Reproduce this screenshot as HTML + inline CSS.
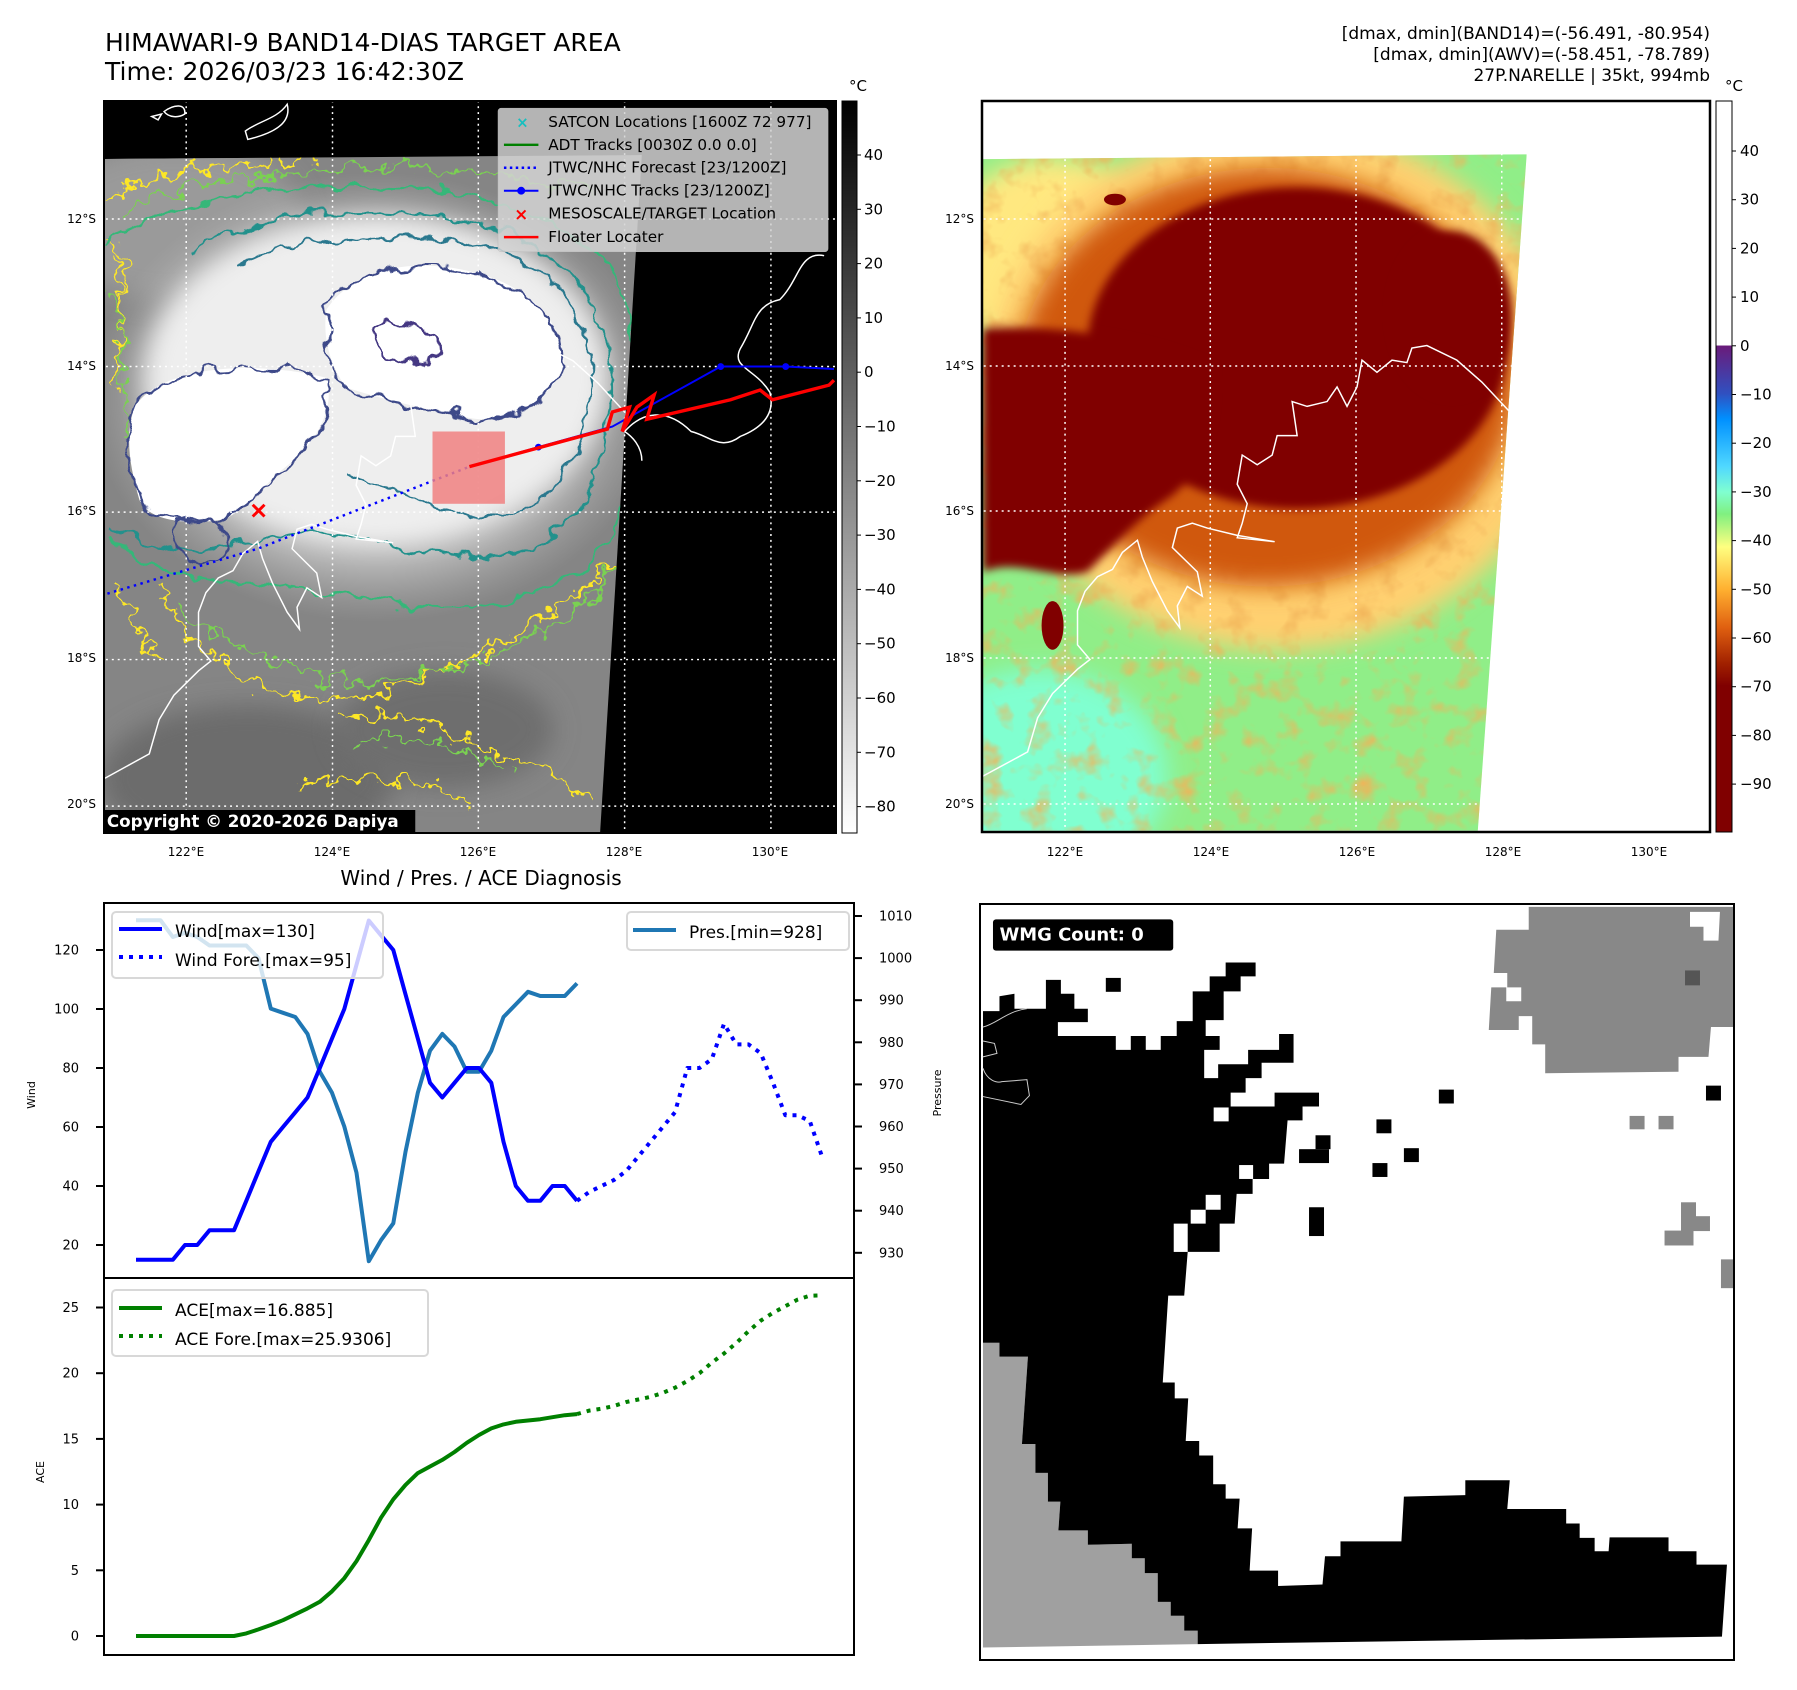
<!DOCTYPE html>
<html><head><meta charset="utf-8">
<style>
html,body{margin:0;padding:0;background:#fff;}
svg{display:block;font-family:"DejaVu Sans","Liberation Sans",sans-serif;}
</style></head>
<body>
<svg id="fig" width="1797" height="1690" viewBox="0 0 1797 1690" xmlns="http://www.w3.org/2000/svg">
<defs>
  <clipPath id="clipL"><rect x="104" y="101" width="732" height="732"/></clipPath>
  <clipPath id="clipR"><rect x="982" y="101" width="728" height="731"/></clipPath>
  <clipPath id="dataL"><polygon points="10,132 1100,124 1015,1515 10,1515"/></clipPath>
  <clipPath id="dataR"><polygon points="10,132 1100,122 1002,1512 10,1512"/></clipPath>
  <filter id="blur20" x="-30%" y="-30%" width="160%" height="160%"><feGaussianBlur stdDeviation="25"/></filter>
  <filter id="blur8" x="-30%" y="-30%" width="160%" height="160%"><feGaussianBlur stdDeviation="9"/></filter>
  <filter id="wig" filterUnits="userSpaceOnUse" x="-100" y="-100" width="1800" height="1800">
    <feTurbulence type="fractalNoise" baseFrequency="0.02" numOctaves="3" seed="3" result="t"/>
    <feDisplacementMap in="SourceGraphic" in2="t" scale="45" xChannelSelector="R" yChannelSelector="G"/>
  </filter>
  <filter id="wig2" filterUnits="userSpaceOnUse" x="-100" y="-100" width="1800" height="1800">
    <feTurbulence type="fractalNoise" baseFrequency="0.03" numOctaves="3" seed="7" result="t"/>
    <feDisplacementMap in="SourceGraphic" in2="t" scale="70" xChannelSelector="R" yChannelSelector="G"/>
  </filter>
  <filter id="mottle" x="0" y="0" width="100%" height="100%">
    <feTurbulence type="fractalNoise" baseFrequency="0.02" numOctaves="3" seed="11"/>
    <feColorMatrix type="matrix" values="0 0 0 0 0.88  0 0 0 0 0.45  0 0 0 0 0.1  0 0 0 2.2 -1.1"/>
  </filter>
  <linearGradient id="cb1" x1="0" y1="0" x2="0" y2="1">
    <stop offset="0" stop-color="#000"/><stop offset="1" stop-color="#fff"/>
  </linearGradient>
  <linearGradient id="cb2" x1="0" y1="0" x2="0" y2="1">
    <stop offset="0" stop-color="#fff"/><stop offset="0.334" stop-color="#fff"/>
    <stop offset="0.335" stop-color="#6a1b7a"/><stop offset="0.40" stop-color="#3050c0"/>
    <stop offset="0.435" stop-color="#0090ff"/><stop offset="0.50" stop-color="#50d8ff"/>
    <stop offset="0.535" stop-color="#80ffd0"/><stop offset="0.565" stop-color="#80f080"/>
    <stop offset="0.61" stop-color="#ffff80"/><stop offset="0.668" stop-color="#ffb030"/>
    <stop offset="0.72" stop-color="#e06010"/><stop offset="0.77" stop-color="#a02000"/>
    <stop offset="0.80" stop-color="#800000"/><stop offset="1" stop-color="#800000"/>
  </linearGradient>
  <radialGradient id="cloud" cx="0.5" cy="0.5" r="0.5">
    <stop offset="0" stop-color="#fff"/><stop offset="0.55" stop-color="#eee"/><stop offset="1" stop-color="#bdbdbd" stop-opacity="0"/>
  </radialGradient>
</defs>

<!-- Titles -->
<text x="105" y="51" font-size="25" fill="#000">HIMAWARI-9 BAND14-DIAS TARGET AREA</text>
<text x="105" y="80" font-size="25" fill="#000">Time: 2026/03/23 16:42:30Z</text>
<g font-size="17" text-anchor="end" fill="#000">
  <text x="1710" y="39">[dmax, dmin](BAND14)=(-56.491, -80.954)</text>
  <text x="1710" y="60">[dmax, dmin](AWV)=(-58.451, -78.789)</text>
  <text x="1710" y="81">27P.NARELLE | 35kt, 994mb</text>
</g>

<!-- ================= LEFT MAP ================= -->
<g clip-path="url(#clipL)">
  <rect x="104" y="101" width="732" height="732" fill="#000"/>
  <g transform="translate(100,94.5) scale(0.4926,0.4884)">
    <g clip-path="url(#dataL)">
      <rect x="0" y="100" width="1120" height="1450" fill="#858585"/>
      <ellipse cx="150" cy="260" rx="260" ry="160" fill="#9a9a9a" filter="url(#blur20)"/>
      <ellipse cx="300" cy="1400" rx="300" ry="150" fill="#6c6c6c" filter="url(#blur20)"/>
      <ellipse cx="700" cy="1300" rx="220" ry="120" fill="#6e6e6e" filter="url(#blur20)"/>
      <ellipse cx="560" cy="620" rx="580" ry="460" fill="url(#cloud)"/>
      <ellipse cx="560" cy="580" rx="470" ry="330" fill="#eeeeee" filter="url(#blur20)"/>
      <path d="M70,640 C120,560 300,540 460,580 C480,650 430,720 380,760 C330,800 300,850 250,870 C200,880 100,880 80,830 C60,760 50,700 70,640Z" fill="#fff"/>
      <path d="M460,440 C520,350 650,330 780,370 C880,400 950,480 940,560 C900,640 820,680 740,660 C640,640 560,620 500,600 C470,560 450,500 460,440Z" fill="#fff"/>
      <!-- contours -->
      <g fill="none" filter="url(#wig2)" stroke-width="5">
        <path d="M10,220 C100,150 300,140 450,130 M20,330 C60,420 40,520 30,600 M120,1000 C150,1100 250,1160 300,1200 C380,1230 450,1260 560,1230 C650,1200 750,1160 850,1100 C950,1050 1000,1000 1050,950 M500,1280 C600,1250 700,1300 800,1350 C900,1380 950,1420 1000,1450 M400,1420 C500,1380 650,1400 750,1450 M30,1000 C60,1060 90,1120 120,1150 M20,300 C60,350 50,420 40,480" stroke="#fde725"/>
        <path d="M40,250 C150,180 300,170 480,150 C650,140 850,160 1000,200 M25,400 C60,500 40,600 50,700 M160,1050 C250,1120 350,1180 480,1200 C600,1210 750,1180 900,1100 C980,1060 1030,1000 1060,930 M520,1330 C620,1300 720,1340 820,1380" stroke="#7ad151"/>
      </g>
      <g fill="none" filter="url(#wig)" stroke-width="5">
        <path d="M20,300 C150,200 400,180 600,190 C800,200 1000,260 1060,400 C1090,550 1080,750 1050,880 C1000,1000 850,1050 700,1050 C550,1050 400,1000 300,1000 C150,1000 50,960 20,900" stroke="#35b779"/>
        <path d="M190,320 C300,240 500,230 700,250 C880,270 1000,380 1030,520 C1050,650 1020,800 950,880 C880,940 780,960 680,940 C560,930 480,880 380,900 C280,920 120,960 30,880" stroke="#21918c"/>
        <path d="M280,350 C400,290 600,280 760,310 C900,340 990,430 1000,560 C1000,680 950,780 880,840 C820,880 760,880 700,850 C640,820 560,800 500,780" stroke="#2a788e"/>
        <path d="M70,640 C120,560 300,540 460,580 C480,650 430,720 380,760 C330,800 300,850 250,870 C200,880 100,880 80,830 C60,760 50,700 70,640Z" stroke="#3e4a89"/>
        <path d="M460,440 C520,350 650,330 780,370 C880,400 950,480 940,560 C900,640 820,680 740,660 C640,640 560,620 500,600 C470,560 450,500 460,440Z" stroke="#3e4a89"/>
        <path d="M150,880 C180,860 240,870 260,910 C270,950 220,970 180,960 C150,940 140,900 150,880Z" stroke="#3e4a89"/>
        <path d="M560,480 C600,450 650,470 680,500 C700,540 660,560 620,550 C580,540 550,510 560,480Z" stroke="#443983"/>
      </g>
    </g>
    <!-- grid -->
    <g stroke="#fff" stroke-width="3" stroke-dasharray="4,8">
      <line x1="175" y1="0" x2="175" y2="1560"/><line x1="472" y1="0" x2="472" y2="1560"/>
      <line x1="768" y1="0" x2="768" y2="1560"/><line x1="1065" y1="0" x2="1065" y2="1560"/>
      <line x1="1362" y1="0" x2="1362" y2="1560"/>
      <line x1="0" y1="255" x2="1500" y2="255"/><line x1="0" y1="557" x2="1500" y2="557"/>
      <line x1="0" y1="855" x2="1500" y2="855"/><line x1="0" y1="1157" x2="1500" y2="1157"/>
      <line x1="0" y1="1457" x2="1500" y2="1457"/>
    </g>
    <!-- coast -->
    <g fill="none" stroke="#fff" stroke-width="3">
      <path d="M1065,690 C1100,650 1150,640 1200,690 C1240,700 1260,730 1300,700 C1350,680 1370,650 1360,610 C1330,560 1280,560 1300,520 C1330,470 1330,430 1380,420 C1420,380 1420,320 1470,330 M1100,750 C1100,720 1080,700 1065,690"/>
      <path d="M1065,650 L1010,590 L960,545 L900,515 L870,520 L860,550 L830,545 L800,570 L770,545 L760,600 L740,640 L720,600 L700,630 L660,640 L630,630 L640,700 L600,700 L590,740 L560,760 L530,740 L520,800 L540,840 L530,880 L520,910 L595,918 L520,905 L460,890 L430,880 L400,890 L390,930 L420,960 L440,980 L450,1030 L420,1010 L400,1050 L405,1095 L380,1060 L350,1000 L330,950 L320,915 L290,940 L270,975 L240,990 L215,1020 L200,1060 L200,1130 L225,1160 L200,1180 L150,1230 L120,1280 L100,1350 L10,1400"/>
      <path d="M105,45 L125,40 L118,52Z M130,35 C150,20 175,18 172,40 C160,48 140,48 130,35Z M295,75 C320,55 360,50 380,20 C390,60 350,80 300,92Z"/>
    </g>
    <!-- tracks -->
    <polyline points="15,1022 320,930 750,762" fill="none" stroke="#00f" stroke-width="5" stroke-dasharray="5,9"/>
    <polyline points="750,762 890,722 1040,680 1260,557 1392,557 1490,562" fill="none" stroke="#00f" stroke-width="4"/>
    <g fill="#00f"><circle cx="890" cy="722" r="7"/><circle cx="1260" cy="557" r="7"/><circle cx="1392" cy="557" r="7"/></g>
    <rect x="675" y="690" width="147" height="148" fill="#f08080" fill-opacity="0.85"/>
    <polyline points="750,762 1030,685 1040,650 1075,640 1060,690 1090,640 1125,615 1110,665 1280,625 1340,605 1365,625 1480,595 1490,585" fill="none" stroke="#f00" stroke-width="7"/>
    <g stroke="#f00" stroke-width="6"><line x1="310" y1="840" x2="334" y2="864"/><line x1="334" y1="840" x2="310" y2="864"/></g>
    <!-- legend -->
    <g>
      <rect x="808" y="28" width="670" height="294" rx="6" fill="#d4d4d4" fill-opacity="0.85" stroke="#bbb"/>
      <text x="845" y="68" font-size="30" fill="#17bfbf" font-weight="bold">×</text>
      <line x1="820" y1="103" x2="890" y2="103" stroke="#008000" stroke-width="5"/>
      <line x1="820" y1="150" x2="890" y2="150" stroke="#00f" stroke-width="5" stroke-dasharray="5,7"/>
      <line x1="820" y1="197" x2="890" y2="197" stroke="#00f" stroke-width="4"/><circle cx="855" cy="197" r="8" fill="#00f"/>
      <text x="841" y="257" font-size="34" fill="#f00" font-weight="bold">×</text>
      <line x1="820" y1="292" x2="890" y2="292" stroke="#f00" stroke-width="5"/>
      <g font-size="31" fill="#000">
        <text x="910" y="67">SATCON Locations [1600Z 72 977]</text>
        <text x="910" y="114">ADT Tracks [0030Z 0.0 0.0]</text>
        <text x="910" y="160">JTWC/NHC Forecast [23/1200Z]</text>
        <text x="910" y="207">JTWC/NHC Tracks [23/1200Z]</text>
        <text x="910" y="254">MESOSCALE/TARGET Location</text>
        <text x="910" y="302">Floater Locater</text>
      </g>
    </g>
    <rect x="5" y="1465" width="635" height="52" fill="#000"/>
    <text x="14" y="1500" font-size="34" font-weight="bold" fill="#fff">Copyright © 2020-2026 Dapiya</text>
  </g>
</g>
<rect x="104" y="101" width="732" height="732" fill="none" stroke="#000" stroke-width="2"/>

<!-- ================= RIGHT MAP ================= -->
<g clip-path="url(#clipR)">
  <rect x="982" y="101" width="728" height="731" fill="#fff"/>
  <g transform="translate(977.7,94.9) scale(0.4991,0.4867)">
    <g clip-path="url(#dataR)">
      <rect x="0" y="100" width="1120" height="1450" fill="#90ee88"/>
      <ellipse cx="120" cy="1400" rx="260" ry="220" fill="#80ffd0" filter="url(#blur20)"/>
      <ellipse cx="150" cy="330" rx="220" ry="200" fill="#ffe880" filter="url(#blur20)"/>
      <ellipse cx="600" cy="600" rx="580" ry="540" fill="#ffd070" filter="url(#blur20)"/>
      <rect x="0" y="100" width="1120" height="1450" fill="#000" filter="url(#mottle)"/>
      <ellipse cx="580" cy="580" rx="500" ry="430" fill="#d05810" filter="url(#blur20)"/>
      <ellipse cx="640" cy="520" rx="420" ry="330" fill="#800000" filter="url(#blur8)"/>
      <ellipse cx="950" cy="450" rx="120" ry="170" fill="#800000" filter="url(#blur8)"/>
      <path d="M10,480 C150,470 350,500 470,560 C480,700 430,800 380,830 C320,870 270,930 220,980 C150,1000 80,950 10,980Z" fill="#800000" filter="url(#blur8)"/>
      <ellipse cx="150" cy="1090" rx="22" ry="50" fill="#800000"/>
      <ellipse cx="275" cy="215" rx="22" ry="12" fill="#800000"/>
    </g>
    <g stroke="#fff" stroke-width="3" stroke-dasharray="4,8">
      <line x1="175" y1="0" x2="175" y2="1560"/><line x1="466" y1="0" x2="466" y2="1560"/>
      <line x1="758" y1="0" x2="758" y2="1560"/><line x1="1050" y1="0" x2="1050" y2="1560"/>
      <line x1="1345" y1="0" x2="1345" y2="1560"/>
      <line x1="0" y1="255" x2="1100" y2="255"/><line x1="0" y1="557" x2="1080" y2="557"/>
      <line x1="0" y1="855" x2="1060" y2="855"/><line x1="0" y1="1157" x2="1035" y2="1157"/>
      <line x1="0" y1="1457" x2="1010" y2="1457"/>
    </g>
    <path fill="none" stroke="#fff" stroke-width="3" d="M1065,650 L1010,590 L960,545 L900,515 L870,520 L860,550 L830,545 L800,570 L770,545 L760,600 L740,640 L720,600 L700,630 L660,640 L630,630 L640,700 L600,700 L590,740 L560,760 L530,740 L520,800 L540,840 L530,880 L520,910 L595,918 L520,905 L460,890 L430,880 L400,890 L390,930 L420,960 L440,980 L450,1030 L420,1010 L400,1050 L405,1095 L380,1060 L350,1000 L330,950 L320,915 L290,940 L270,975 L240,990 L215,1020 L200,1060 L200,1130 L225,1160 L200,1180 L150,1230 L120,1280 L100,1350 L10,1400"/>
  </g>
</g>
<rect x="982" y="101" width="728" height="731" fill="none" stroke="#000" stroke-width="2.5"/>

<!-- map tick labels -->
<g font-size="12" text-anchor="end" fill="#000">
  <text x="96" y="223">12°S</text><text x="96" y="370">14°S</text><text x="96" y="515">16°S</text><text x="96" y="662">18°S</text><text x="96" y="808">20°S</text>
  <text x="974" y="223">12°S</text><text x="974" y="370">14°S</text><text x="974" y="515">16°S</text><text x="974" y="662">18°S</text><text x="974" y="808">20°S</text>
</g>
<g font-size="12" text-anchor="middle" fill="#000">
  <text x="186" y="856">122°E</text><text x="332" y="856">124°E</text><text x="478" y="856">126°E</text><text x="624" y="856">128°E</text><text x="770" y="856">130°E</text>
  <text x="1065" y="856">122°E</text><text x="1211" y="856">124°E</text><text x="1357" y="856">126°E</text><text x="1503" y="856">128°E</text><text x="1649" y="856">130°E</text>
</g>

<!-- colorbars -->
<g>
  <rect x="842" y="101" width="15" height="732" fill="url(#cb1)" stroke="#000" stroke-width="1"/>
  <text x="858" y="91" font-size="15" text-anchor="middle">°C</text>
  <g id="cb1ticks" font-size="15"></g>
</g>
<g>
  <rect x="1716" y="101" width="16" height="731" fill="url(#cb2)" stroke="#000" stroke-width="1"/>
  <text x="1734" y="91" font-size="15" text-anchor="middle">°C</text>
  <g id="cb2ticks" font-size="15"></g>
</g>

<!-- ================= WIND / PRES ================= -->
<text x="481" y="885" font-size="20" text-anchor="middle">Wind / Pres. / ACE Diagnosis</text>
<g id="windPanel"></g>
<rect x="104" y="903" width="750" height="375" fill="none" stroke="#000" stroke-width="2"/>
<rect x="104" y="1278" width="750" height="377" fill="none" stroke="#000" stroke-width="2"/>
<text transform="translate(35,1095) rotate(-90)" font-size="11" text-anchor="middle">Wind</text>
<text transform="translate(941,1093) rotate(-90)" font-size="11" text-anchor="middle">Pressure</text>
<text transform="translate(44,1472) rotate(-90)" font-size="11" text-anchor="middle">ACE</text>

<g>
  <rect x="112" y="912" width="271" height="66" rx="4" fill="#fff" fill-opacity="0.8" stroke="#d8d8d8" stroke-width="2"/>
  <line x1="119" y1="929" x2="162" y2="929" stroke="#00f" stroke-width="4"/>
  <line x1="119" y1="957" x2="162" y2="957" stroke="#00f" stroke-width="4" stroke-dasharray="4,6"/>
  <text x="175" y="937" font-size="17">Wind[max=130]</text>
  <text x="175" y="966" font-size="17">Wind Fore.[max=95]</text>
</g>
<g>
  <rect x="627" y="912" width="222" height="38" rx="4" fill="#fff" fill-opacity="0.8" stroke="#d8d8d8" stroke-width="2"/>
  <line x1="633" y1="930" x2="676" y2="930" stroke="#1f77b4" stroke-width="4"/>
  <text x="689" y="938" font-size="17">Pres.[min=928]</text>
</g>
<g id="acePanel"></g>
<g>
  <rect x="112" y="1290" width="316" height="66" rx="4" fill="#fff" fill-opacity="0.8" stroke="#d8d8d8" stroke-width="2"/>
  <line x1="119" y1="1308" x2="162" y2="1308" stroke="#008000" stroke-width="4"/>
  <line x1="119" y1="1336" x2="162" y2="1336" stroke="#008000" stroke-width="4" stroke-dasharray="4,6"/>
  <text x="175" y="1316" font-size="17">ACE[max=16.885]</text>
  <text x="175" y="1345" font-size="17">ACE Fore.[max=25.9306]</text>
</g>

<!-- ================= WMG ================= -->
<g>
  <rect x="980" y="904" width="754" height="756" fill="#fff"/>
  <g transform="translate(977,897) scale(0.4993,0.4964)">
    <polygon fill="#a0a0a0" points="12,898 45,898 45,926 102,926 90,1102 117,1102 117,1160 142,1160 142,1218 167,1218 163,1276 222,1276 222,1305 310,1303 310,1332 336,1332 336,1362 362,1362 362,1420 388,1420 388,1448 415,1448 415,1478 442,1478 442,1505 12,1512"/>
    <polygon fill="#888" points="1105,20 1515,20 1515,262 1470,262 1465,322 1405,322 1405,352 1138,355 1138,297 1112,297 1112,240 1085,240 1085,268 1025,268 1030,182 1060,182 1060,210 1090,210 1090,182 1062,182 1062,153 1035,153 1040,66 1105,66"/>
    <polygon fill="#fff" points="1428,30 1488,30 1485,88 1455,88 1455,60 1428,60"/>
    <rect x="1418" y="148" width="30" height="30" fill="#555"/>
    <polygon fill="#000" points="12,230 45,230 45,200 75,195 75,225 138,225 138,167 168,167 168,195 195,195 195,225 222,225 222,252 162,252 162,280 278,280 278,308 308,308 308,280 338,280 338,308 368,308 368,280 400,280 400,250 432,250 432,190 466,190 466,160 498,160 498,132 558,132 558,160 528,160 528,190 494,190 494,248 458,248 458,280 486,280 486,308 455,308 455,365 483,365 483,337 543,337 543,308 605,308 605,276 634,276 634,334 570,334 570,365 538,365 538,394 508,394 508,422 596,422 596,394 685,394 685,422 652,422 652,450 622,450 615,537 585,537 585,568 552,568 552,598 520,598 516,658 486,658 486,715 422,715 415,803 383,803 372,978 396,978 396,1010 423,1010 418,1096 445,1096 445,1125 473,1125 473,1183 498,1183 498,1212 526,1212 522,1272 551,1272 546,1357 603,1357 603,1388 692,1385 697,1328 728,1328 728,1298 850,1298 855,1208 978,1205 978,1175 1067,1175 1062,1233 1180,1233 1180,1262 1207,1262 1207,1291 1237,1291 1237,1318 1265,1318 1267,1290 1385,1290 1385,1318 1441,1318 1441,1345 1502,1345 1492,1490 442,1505 442,1478 415,1478 415,1448 388,1448 388,1420 362,1420 362,1362 336,1362 336,1332 310,1332 310,1303 222,1305 222,1276 163,1276 167,1218 142,1218 142,1160 117,1160 117,1102 90,1102 102,926 45,926 45,898 12,898"/>
    <g fill="#fff"><rect x="474" y="424" width="30" height="28"/><rect x="394" y="658" width="28" height="57"/><rect x="458" y="600" width="30" height="30"/><rect x="428" y="630" width="30" height="28"/><rect x="525" y="540" width="28" height="28"/></g>
    <g fill="#000"><rect x="925" y="388" width="30" height="28"/><rect x="800" y="448" width="30" height="28"/><rect x="855" y="506" width="30" height="28"/><rect x="792" y="536" width="30" height="28"/><rect x="645" y="508" width="60" height="28"/><rect x="678" y="480" width="30" height="28"/><rect x="665" y="625" width="30" height="58"/><rect x="1460" y="380" width="30" height="30"/><rect x="258" y="163" width="30" height="28"/></g>
    <g fill="#888"><rect x="1307" y="441" width="30" height="27"/><rect x="1365" y="441" width="30" height="27"/><rect x="1410" y="615" width="30" height="30"/><rect x="1410" y="643" width="58" height="30"/><rect x="1377" y="672" width="58" height="30"/><rect x="1490" y="730" width="25" height="58"/></g>
    <path fill="none" stroke="#ccc" stroke-width="2" d="M12,262 C40,255 60,230 100,225 M12,290 L35,295 L40,315 L12,322 M12,345 C20,370 40,375 50,372 L100,368 L105,400 L88,418 L12,402"/>
    <rect x="32" y="45" width="361" height="63" rx="6" fill="#000"/>
    <text x="45" y="88" font-size="36" font-weight="bold" fill="#fff">WMG Count: 0</text>
  </g>
  <rect x="980" y="904" width="754" height="756" fill="none" stroke="#000" stroke-width="2"/>
</g>
</svg>

<script>
// ---- chart data ----
const windObs = [15,15,15,15,20,20,25,25,25,35,45,55,60,65,70,80,90,100,115,130,125,120,105,90,75,70,75,80,80,75,55,40,35,35,40,40,35];
const windFore = [35,38,40,42,45,50,55,60,65,80,80,83,95,88,88,85,75,64,64,62,50];
const presObs = [1009,1009,1009,1005,1006,1005,1003,1003,1003,1003,1000,988,987,986,982,973,968,960,949,928,933,937,954,968,978,982,979,973,973,978,986,989,992,991,991,991,994];
const aceObs = [0,0,0,0,0,0,0,0,0,0.2,0.5,0.84,1.2,1.65,2.1,2.6,3.4,4.4,5.7,7.3,9.0,10.4,11.5,12.4,12.9,13.4,14.0,14.7,15.3,15.8,16.1,16.3,16.4,16.5,16.65,16.8,16.885];
const aceFore = [16.885,17.15,17.3,17.5,17.8,18.0,18.2,18.5,18.9,19.4,20.0,20.8,21.5,22.3,23.2,24.0,24.6,25.1,25.6,25.9,25.93];
const windTicks = [20,40,60,80,100,120];
const presTicks = [930,940,950,960,970,980,990,1000,1010];
const aceTicks = [0,5,10,15,20,25];
const cb1Ticks = [40,30,20,10,0,-10,-20,-30,-40,-50,-60,-70,-80];
const cb2Ticks = [40,30,20,10,0,-10,-20,-30,-40,-50,-60,-70,-80,-90];

const NS = 'http://www.w3.org/2000/svg';
function xAt(i){ return 136 + i*12.25; }
function yWind(v){ return 950 + (120 - v)*2.95; }
function yPres(p){ return 916 + (1010 - p)*4.21; }
function yAce(a){ return 1636 - a*13.14; }
function yCb1(v){ return 155 + (40 - v)*5.43; }
function yCb2(v){ return 151 + (40 - v)*4.87; }
function mk(tag, parent){ const e=document.createElementNS(NS,tag); parent.appendChild(e); return e; }
function fmt(v){ return v<0 ? '\u2212'+Math.abs(v) : String(v); }

const wp = document.getElementById('windPanel');
const ap = document.getElementById('acePanel');

function line(parent, vals, offset, yf, color, dash, name){
  const pl = mk('polyline', parent);
  
  
  pl.setAttribute('points', vals.map((v,k)=>xAt(k+offset).toFixed(1)+','+yf(v).toFixed(1)).join(' '));
  pl.setAttribute('fill','none'); pl.setAttribute('stroke',color); pl.setAttribute('stroke-width','4');
  pl.setAttribute('stroke-linejoin','round');
  if(dash) pl.setAttribute('stroke-dasharray', dash);
}
line(wp, presObs, 0, yPres, '#1f77b4', null, 'pressure-line');
line(wp, windObs, 0, yWind, '#0000ff', null, 'wind-line');
line(wp, windFore, windObs.length-1, yWind, '#0000ff', '4,6', 'wind-forecast-line');
line(ap, aceObs, 0, yAce, '#008000', null, 'ace-line');
line(ap, aceFore, aceObs.length-1, yAce, '#008000', '4,6', 'ace-forecast-line');

function ticks(parent, arr, yf, x0, dir, lx, anchor, name){
  arr.forEach(v=>{
    const y = yf(v);
    const t = mk('line', parent);
    
    
    t.setAttribute('x1', x0); t.setAttribute('x2', x0+dir*8);
    t.setAttribute('y1', y); t.setAttribute('y2', y);
    t.setAttribute('stroke','#000'); t.setAttribute('stroke-width','2');
    const tx = mk('text', parent);
    
    
    tx.setAttribute('x', lx); tx.setAttribute('y', y+4.5);
    tx.setAttribute('text-anchor', anchor); tx.setAttribute('font-size','13');
    tx.textContent = fmt(v);
  });
}
ticks(wp, windTicks, yWind, 104, -1, 79, 'end', 'wind-axis');
ticks(wp, presTicks, yPres, 854, 1, 879, 'start', 'pressure-axis');
ticks(ap, aceTicks, yAce, 104, -1, 79, 'end', 'ace-axis');

function cbTicks(id, arr, yf, x0, lx){
  const g = document.getElementById(id);
  arr.forEach(v=>{
    const y = yf(v);
    const t = mk('line', g);
    
    
    t.setAttribute('x1', x0); t.setAttribute('x2', x0+4); t.setAttribute('y1', y); t.setAttribute('y2', y);
    t.setAttribute('stroke','#000');
    const tx = mk('text', g);
    
    
    tx.setAttribute('x', lx); tx.setAttribute('y', y+5);
    tx.textContent = fmt(v);
  });
}
cbTicks('cb1ticks', cb1Ticks, yCb1, 857, 864);
cbTicks('cb2ticks', cb2Ticks, yCb2, 1732, 1740);
</script>
</body></html>
